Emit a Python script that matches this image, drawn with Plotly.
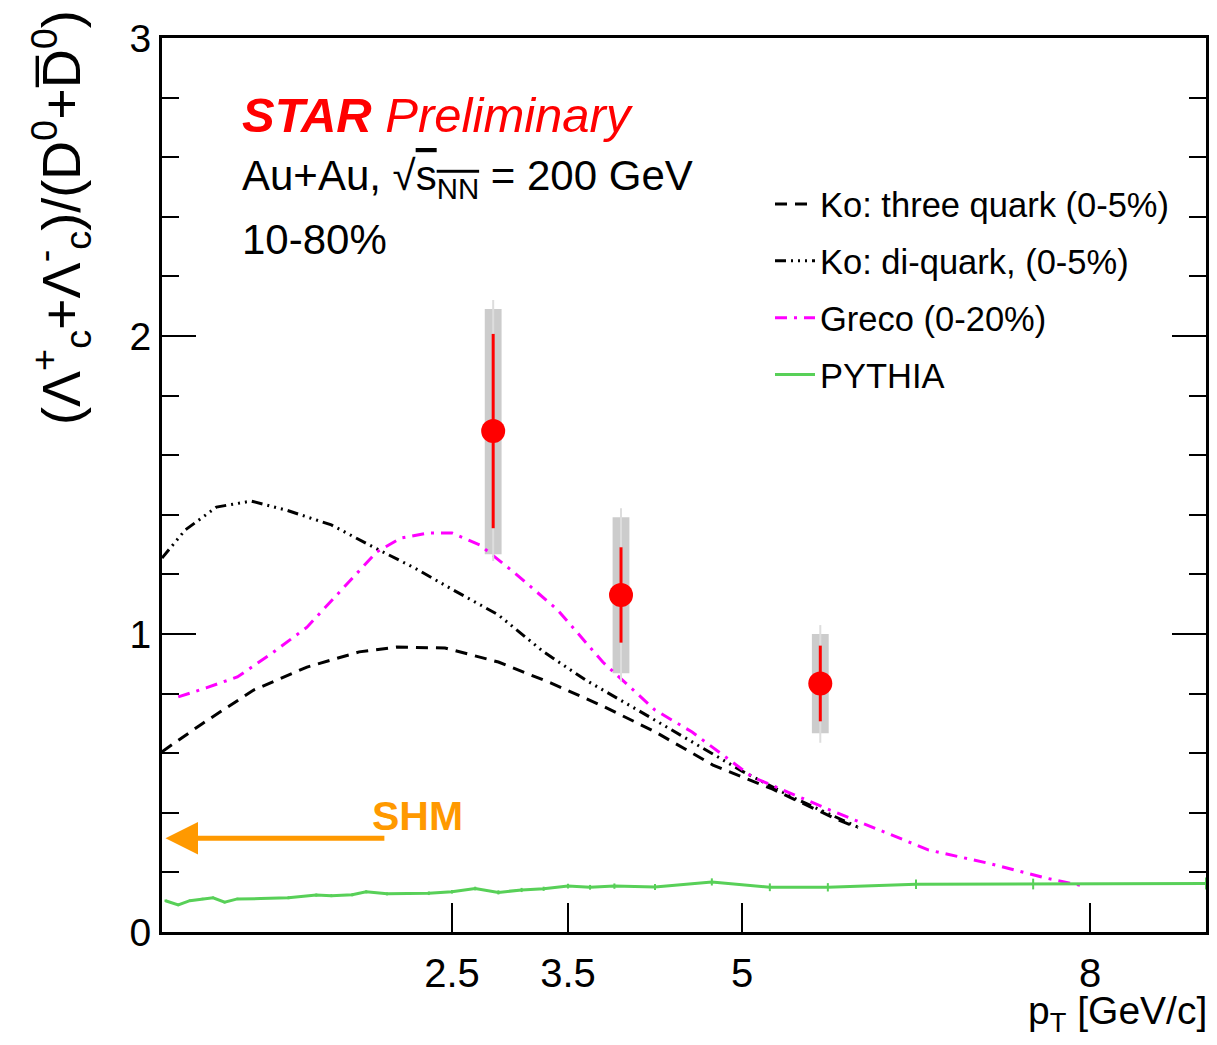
import plotly.graph_objects as go

# ---------------- data ----------------
ko3_x = [0, 0.35, 0.79, 1.25, 1.70, 2.02, 2.44, 2.90, 3.35, 3.80, 4.25, 4.75, 5.26, 5.83, 6.0]
ko3_y = [0.605, 0.70, 0.812, 0.889, 0.940, 0.956, 0.953, 0.906, 0.836, 0.758, 0.672, 0.56, 0.48, 0.376, 0.35]

kodi_x = [0, 0.20, 0.47, 0.77, 1.07, 1.46, 1.82, 2.18, 2.51, 2.90, 3.29, 3.65, 4.10, 4.58, 5.0, 5.43, 6.0]
kodi_y = [1.255, 1.349, 1.426, 1.446, 1.416, 1.366, 1.292, 1.221, 1.148, 1.064, 0.94, 0.846, 0.745, 0.635, 0.54, 0.453, 0.352]

greco_x = [0.14, 0.38, 0.65, 0.95, 1.25, 1.55, 1.85, 2.06, 2.30, 2.50, 2.74, 3.04, 3.41, 3.80,
           4.25, 4.57, 5.09, 5.76, 6.61, 7.11, 7.62, 7.95]
greco_y = [0.789, 0.819, 0.856, 0.936, 1.023, 1.148, 1.275, 1.322, 1.339, 1.339, 1.299, 1.205, 1.081, 0.906,
           0.745, 0.671, 0.52, 0.409, 0.275, 0.232, 0.181, 0.154]

pythia_x = [0.03, 0.14, 0.24, 0.35, 0.44, 0.54, 0.65, 0.85, 1.09, 1.33, 1.46, 1.64, 1.76, 1.94, 2.30,
            2.50, 2.70, 2.90, 3.10, 3.29, 3.50, 3.69, 3.90, 4.25, 4.74, 5.24, 5.74, 6.50, 7.51, 9.0]
pythia_y = [0.105, 0.091, 0.105, 0.111, 0.115, 0.100, 0.111, 0.112, 0.115, 0.124, 0.122, 0.125, 0.135, 0.128, 0.130,
            0.135, 0.146, 0.133, 0.141, 0.145, 0.154, 0.150, 0.154, 0.151, 0.168, 0.150, 0.150, 0.160, 0.161, 0.163]
pythia_err = [0.004, 0.004, 0.004, 0.004, 0.004, 0.004, 0.004, 0.004, 0.005, 0.005, 0.005, 0.005, 0.005, 0.005, 0.006,
              0.006, 0.006, 0.007, 0.007, 0.007, 0.008, 0.008, 0.009, 0.010, 0.012, 0.013, 0.014, 0.016, 0.018, 0.020]

pt_x = [2.855, 3.957, 5.675]
pt_y = [1.681, 1.131, 0.834]
stat_err = [0.326, 0.160, 0.127]
sys_hi = [2.091, 1.392, 1.000]
sys_lo = [1.268, 0.868, 0.667]
tot_hi = [2.121, 1.422, 1.030]
tot_lo = [1.245, 0.840, 0.635]

shm_value = 0.315
shm_x_from = 1.93
shm_x_to = 0.03

x_tickvals = [2.5, 3.5, 5, 8]
x_ticklabels = ["2.5", "3.5", "5", "8"]
y_tickvals = [0, 1, 2, 3]
y_ticklabels = ["0", "1", "2", "3"]

FONT = "Liberation Sans, Arial, Helvetica, sans-serif"
GREEN = "#58d058"
MAGENTA = "#ff00ff"
ORANGE = "#ff9900"

fig = go.Figure()

# model curves
fig.add_trace(go.Scatter(x=ko3_x, y=ko3_y, mode="lines", name="Ko: three quark (0-5%)",
                         legendgroup="a", line=dict(color="black", width=3, dash="12px,8px")))
fig.add_trace(go.Scatter(x=kodi_x, y=kodi_y, mode="lines", name="Ko: di-quark, (0-5%)",
                         legendgroup="b",
                         line=dict(color="black", width=3, dash="11px,5px,2px,5px,2px,5px,2px,5px")))
fig.add_trace(go.Scatter(x=greco_x, y=greco_y, mode="lines", name="Greco (0-20%)",
                         legendgroup="c", line=dict(color=MAGENTA, width=3, dash="12px,7px,3px,7px")))
fig.add_trace(go.Scatter(x=pythia_x, y=pythia_y, mode="lines", name="PYTHIA",
                         legendgroup="d", line=dict(color=GREEN, width=3),
                         error_y=dict(type="data", array=pythia_err, color=GREEN, thickness=2, width=0)))

# systematic boxes
fig.add_trace(go.Bar(x=pt_x, y=[h - l for h, l in zip(sys_hi, sys_lo)], base=sys_lo, width=0.145,
                     marker=dict(color="#cccccc", line=dict(width=0)), showlegend=False, hoverinfo="skip"))
# thin outer lines
fig.add_trace(go.Scatter(x=pt_x, y=pt_y, mode="markers", marker=dict(color="rgba(0,0,0,0)", size=1),
                         error_y=dict(type="data", symmetric=False,
                                      array=[h - y for h, y in zip(tot_hi, pt_y)],
                                      arrayminus=[y - l for l, y in zip(tot_lo, pt_y)],
                                      color="#dddddd", thickness=2, width=0),
                         showlegend=False, hoverinfo="skip"))
# data points
fig.add_trace(go.Scatter(x=pt_x, y=pt_y, mode="markers", marker=dict(color="red", size=24),
                         error_y=dict(type="data", array=stat_err, color="red", thickness=3, width=0),
                         showlegend=False))

# page body has an 8px margin on every side -> work in page pixels and shift
OFF = 8
W, H = 1217 - 2 * OFF, 1045 - 2 * OFF
PL, PR, PT, PB = 162, 1206, 38, 932          # plot area in page pixels
L, T = PL - OFF, PT - OFF
R, B = W - (PR - OFF), H - (PB - OFF)
pw, ph = PR - PL, PB - PT


def px(xp):
    return (xp - PL) / pw


def py(yp):
    return 1 - (yp - PT) / ph


annotations = [
    dict(text="<b><i>STAR</i></b><i> Preliminary</i>", x=240, y=115, font=dict(size=49, color="red")),
    dict(text="Au+Au, √<span style='text-decoration:overline'>s<sub>NN</sub></span> = 200 GeV",
         x=240, y=178, font=dict(size=42, color="black")),
    dict(text="10-80%", x=240, y=240, font=dict(size=42, color="black")),
    dict(text="<b>SHM</b>", x=370, y=816, font=dict(size=41, color=ORANGE)),
]
ann_out = []
for a in annotations:
    ann_out.append(dict(text=a["text"], xref="paper", yref="paper",
                        x=px(a["x"]), y=py(a["y"]),
                        xanchor="left", yanchor="middle", showarrow=False,
                        font=dict(family=FONT, **a["font"])))

# SHM arrow
ann_out.append(dict(x=shm_x_to, y=shm_value, ax=shm_x_from, ay=shm_value, xref="x", yref="y",
                    axref="x", ayref="y", text="", showarrow=True, arrowhead=2, arrowsize=1.3,
                    arrowwidth=5, arrowcolor=ORANGE))

# y title
ann_out.append(dict(text="(Λ<sup>+</sup><sub>c</sub>+Λ<sup>-</sup><sub>c</sub>)/(D<sup>0</sup>+D̅<sup>0</sup>)",
                    textangle=-90, xref="paper", yref="paper",
                    x=px(61), y=py(218), xanchor="center", yanchor="middle",
                    showarrow=False, font=dict(family=FONT, size=54, color="black")))
# x title
ann_out.append(dict(text="p<sub>T</sub> [GeV/c]", xref="paper", yref="paper",
                    x=px(1209), y=py(1013), xanchor="right", yanchor="middle",
                    showarrow=False, font=dict(family=FONT, size=39, color="black")))

fig.update_layout(
    width=W, height=H,
    margin=dict(l=L, r=R, t=T, b=B, autoexpand=False),
    paper_bgcolor="white", plot_bgcolor="white",
    barmode="overlay",
    font=dict(family=FONT, color="black"),
    annotations=ann_out,
    legend=dict(x=px(770), y=py(175), xanchor="left", yanchor="top",
                font=dict(family=FONT, size=34.5, color="black"), bgcolor="rgba(0,0,0,0)",
                tracegroupgap=9, itemwidth=40),
    xaxis=dict(range=[0, 9], tickvals=x_tickvals, ticktext=x_ticklabels, ticks="inside", ticklen=29,
               tickwidth=2, tickcolor="black", showline=True, linewidth=3, linecolor="black",
               mirror=True, showgrid=False, zeroline=False, tickfont=dict(size=40, family=FONT),
               ticklabelstandoff=4),
    yaxis=dict(range=[0, 3], tickvals=y_tickvals, ticktext=y_ticklabels, ticks="inside", ticklen=34,
               tickwidth=2, tickcolor="black", showline=True, linewidth=3, linecolor="black",
               mirror="ticks", showgrid=False, zeroline=False, tickfont=dict(size=39, family=FONT),
               minor=dict(dtick=0.2, ticks="inside", ticklen=17, tickwidth=2, tickcolor="black",
                          showgrid=False)),
)

fig.write_html("out.html")
